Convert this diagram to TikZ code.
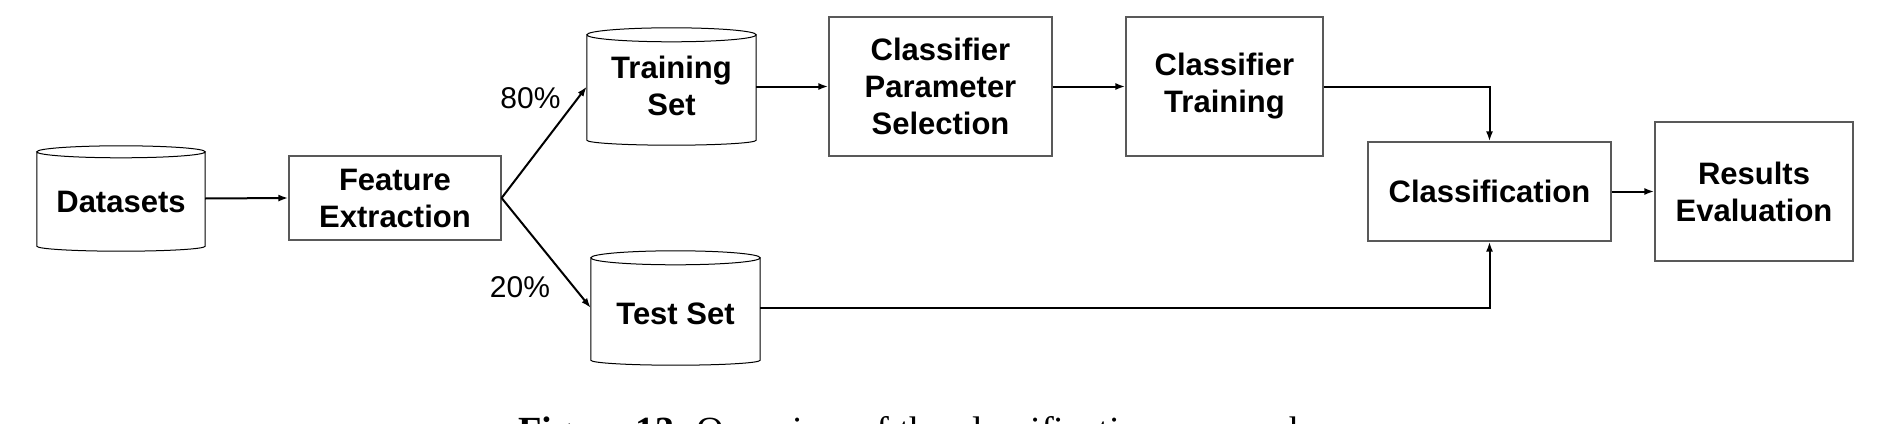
\documentclass[tikz,border=0pt]{standalone}
\usepackage{fontspec}
\setmainfont{Liberation Sans}
\newfontfamily\capfont{Liberation Serif}
\usetikzlibrary{arrows.meta,calc}
\newcommand\cylout[3]{%
  \draw[cylline] let \p1=(#1.north west), \p2=(#1.south east), \n1={0.5*(\x2-\x1)} in
    (\x1,\y1-#2pt) -- (\x1,\y2+#3pt)
    arc[start angle=180,end angle=360,x radius=\n1,y radius=#3pt]
    -- (\x2,\y1-#2pt)
    (\x1+\n1,\y1-#2pt) ellipse[x radius=\n1,y radius=#2pt];
}
\newcommand\lowertext[2]{\raisebox{-#1}[\height][\depth]{#2}}
\begin{document}
\begin{tikzpicture}[x=1pt,y=-1pt,
  bfont/.style={font=\fontsize{31}{37}\selectfont\bfseries},
  box/.style={bfont,draw=black!65,line width=1.2pt,inner sep=0pt,align=center},
  cyl/.style={bfont,inner sep=0pt,align=center},
  cylline/.style={line width=1pt,draw=black},
  arr/.style={line width=2pt,-{Latex[length=10pt,width=7pt]}},
  lbl/.style={font=\fontsize{30}{36}\selectfont,inner sep=0pt}
]
\useasboundingbox (0,0) rectangle (1887,423);
\fill[white] (0,0) rectangle (1887,423);

% cylinders
\node[cyl,minimum width=168pt,minimum height=105pt] (ds) at (121,198.5) {\lowertext{3.5pt}{Datasets}};
\node[cyl,minimum width=169pt,minimum height=117pt] (tr) at (671.5,86.5) {\lowertext{3.5pt}{\begin{tabular}{@{}c@{}}Training\\Set\end{tabular}}};
\node[cyl,minimum width=169pt,minimum height=114pt] (te) at (675.5,308) {\lowertext{5.5pt}{Test Set}};
\cylout{ds}{6}{5}
\cylout{tr}{7}{5}
\cylout{te}{7}{5}

% boxes
\node[box,minimum width=212pt,minimum height=84pt] (fe) at (395,198) {Feature\\Extraction};
\node[box,minimum width=223pt,minimum height=139pt] (cps) at (940.5,86.5) {Classifier\\Parameter\\Selection};
\node[box,minimum width=197pt,minimum height=139pt] (ct) at (1224.5,86.5) {Classifier\\Training};
\node[box,minimum width=243pt,minimum height=99pt] (cl) at (1489.5,191.5) {Classification};
\node[box,minimum width=198pt,minimum height=139pt] (re) at (1754,191.5) {Results\\Evaluation};

% labels
\node[lbl] (p80) at (530.5,98) {80\%};
\node[lbl] (p20) at (520,287) {20\%};

% connectors
\draw[arr] (ds.east) -- (fe.west);
\draw[arr] (fe.east) -- (tr.west);
\draw[arr] (fe.east) -- (te.west);
\draw[arr] (tr.east) -- (cps.west);
\draw[arr] (cps.east) -- (ct.west);
\draw[arr] (ct.east) -| (cl.north);
\draw[arr] (te.east) -| (cl.south);
\draw[arr] (cl.east) -- (re.west);

% caption (cut off by the lower edge, as in the reference)
\begin{scope}
\clip (0,0) rectangle (1887,423);
\node[anchor=base west,inner sep=0pt] (cap) at (518,443)
  {\fontsize{38.4}{46}\selectfont\capfont\textbf{Figure 13.} Overview of the classification approach.};
\end{scope}
\end{tikzpicture}
\end{document}
